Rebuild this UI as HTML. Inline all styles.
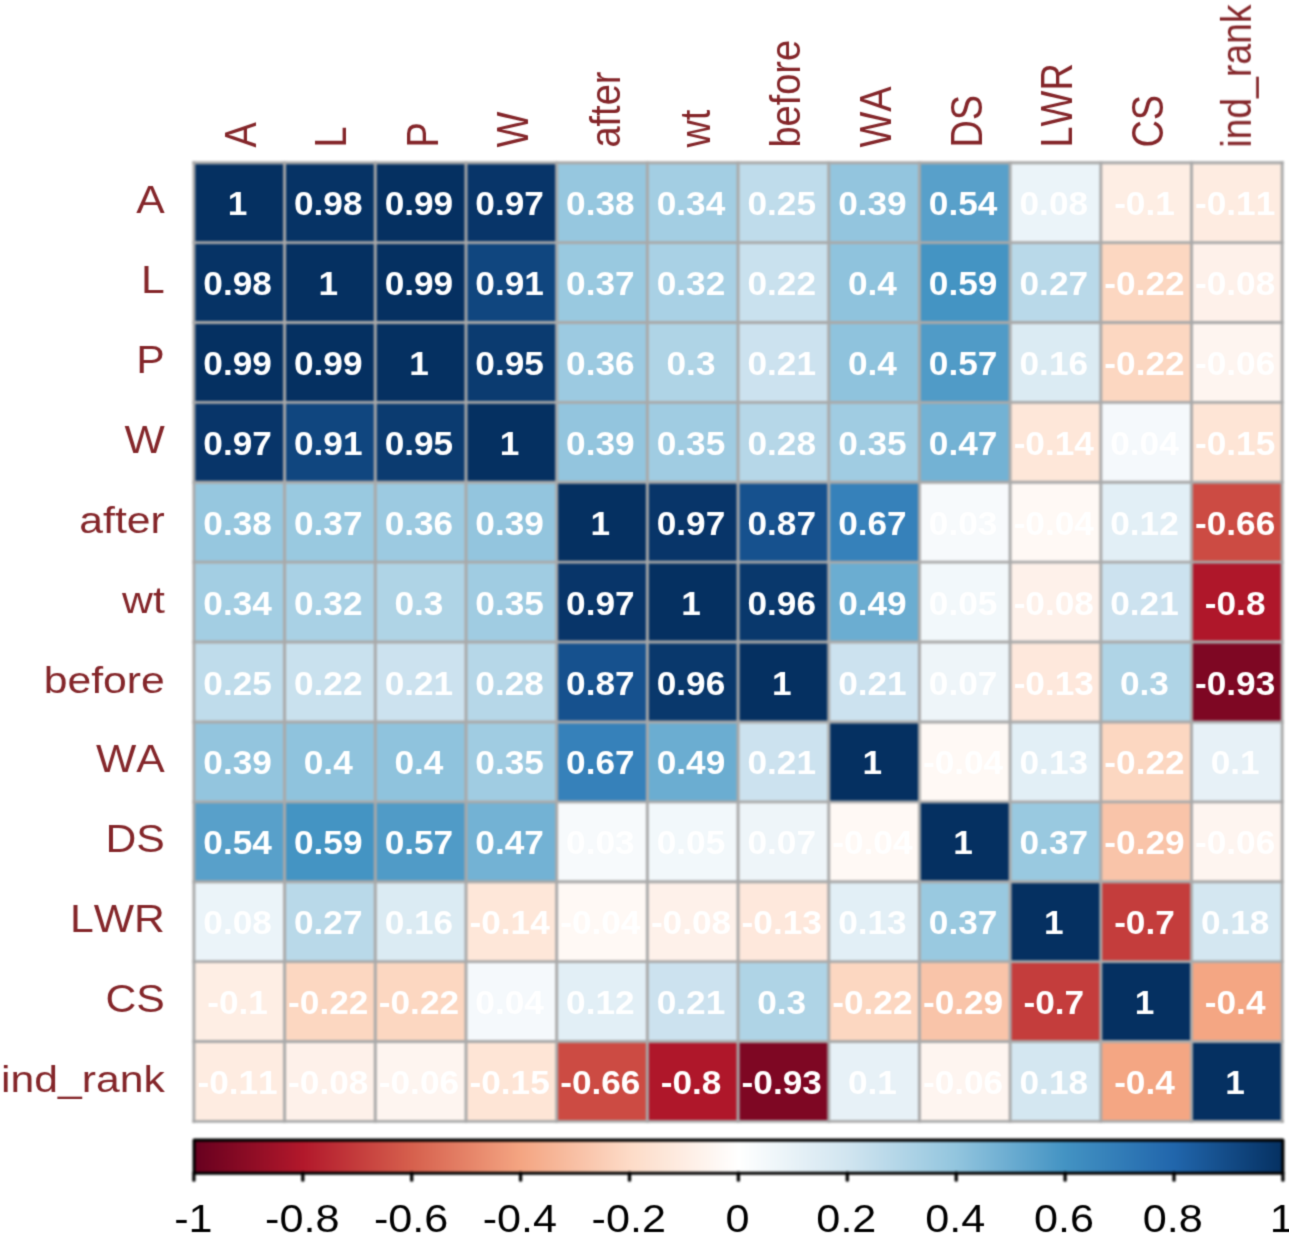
<!DOCTYPE html><html><head><meta charset="utf-8"><title>corrplot</title>
<style>html,body{margin:0;padding:0;background:#fff}svg{display:block}text{font-kerning:none;font-family:"Liberation Sans",Arial,Helvetica,sans-serif}.n{font-weight:700;font-size:31px;fill:#fff;text-anchor:middle}.l{font-size:37.6px;fill:#84262a}.c{font-size:38.4px}.k{font-size:38px;fill:#000;text-anchor:middle}</style></head><body>
<svg width="1289" height="1236" viewBox="0 0 1289 1236">
<defs><linearGradient id="g" x1="0" x2="1" y1="0" y2="0">
<stop offset="0%" stop-color="#67001F"/>
<stop offset="10%" stop-color="#B2182B"/>
<stop offset="20%" stop-color="#D6604D"/>
<stop offset="30%" stop-color="#F4A582"/>
<stop offset="40%" stop-color="#FDDBC7"/>
<stop offset="50%" stop-color="#FFFFFF"/>
<stop offset="60%" stop-color="#D1E5F0"/>
<stop offset="70%" stop-color="#92C5DE"/>
<stop offset="80%" stop-color="#4393C3"/>
<stop offset="90%" stop-color="#2166AC"/>
<stop offset="100%" stop-color="#053061"/>
</linearGradient><filter id="b" x="0" y="0" width="1289" height="1236" filterUnits="userSpaceOnUse" color-interpolation-filters="sRGB"><feGaussianBlur stdDeviation="0.8"/></filter><filter id="c" x="0" y="0" width="1289" height="1236" filterUnits="userSpaceOnUse" color-interpolation-filters="sRGB"><feConvolveMatrix order="3" kernelMatrix="1 4 1 4 16 4 1 4 1" divisor="36" edgeMode="duplicate" preserveAlpha="false"/></filter></defs>
<g filter="url(#b)">
<rect width="1289" height="1236" fill="#fff"/>
<rect x="193.90" y="162.70" width="91.19" height="80.39" fill="#053061"/>
<rect x="284.59" y="162.70" width="91.19" height="80.39" fill="#063365"/>
<rect x="375.28" y="162.70" width="91.19" height="80.39" fill="#053061"/>
<rect x="465.98" y="162.70" width="91.19" height="80.39" fill="#083569"/>
<rect x="556.67" y="162.70" width="91.19" height="80.39" fill="#96c7df"/>
<rect x="647.36" y="162.70" width="91.19" height="80.39" fill="#a3cee3"/>
<rect x="738.05" y="162.70" width="91.19" height="80.39" fill="#bfdceb"/>
<rect x="828.74" y="162.70" width="91.19" height="80.39" fill="#93c5de"/>
<rect x="919.43" y="162.70" width="91.19" height="80.39" fill="#58a0ca"/>
<rect x="1010.12" y="162.70" width="91.19" height="80.39" fill="#ebf4f9"/>
<rect x="1100.82" y="162.70" width="91.19" height="80.39" fill="#feeee4"/>
<rect x="1191.51" y="162.70" width="91.19" height="80.39" fill="#feece1"/>
<rect x="193.90" y="242.59" width="91.19" height="80.39" fill="#063365"/>
<rect x="284.59" y="242.59" width="91.19" height="80.39" fill="#053061"/>
<rect x="375.28" y="242.59" width="91.19" height="80.39" fill="#053061"/>
<rect x="465.98" y="242.59" width="91.19" height="80.39" fill="#10467f"/>
<rect x="556.67" y="242.59" width="91.19" height="80.39" fill="#99c9e0"/>
<rect x="647.36" y="242.59" width="91.19" height="80.39" fill="#a9d1e5"/>
<rect x="738.05" y="242.59" width="91.19" height="80.39" fill="#c9e1ee"/>
<rect x="828.74" y="242.59" width="91.19" height="80.39" fill="#8fc3dd"/>
<rect x="919.43" y="242.59" width="91.19" height="80.39" fill="#4494c3"/>
<rect x="1010.12" y="242.59" width="91.19" height="80.39" fill="#b9d9e9"/>
<rect x="1100.82" y="242.59" width="91.19" height="80.39" fill="#fcd7c1"/>
<rect x="1191.51" y="242.59" width="91.19" height="80.39" fill="#fef1ea"/>
<rect x="193.90" y="322.48" width="91.19" height="80.39" fill="#053061"/>
<rect x="284.59" y="322.48" width="91.19" height="80.39" fill="#053061"/>
<rect x="375.28" y="322.48" width="91.19" height="80.39" fill="#053061"/>
<rect x="465.98" y="322.48" width="91.19" height="80.39" fill="#0b3b70"/>
<rect x="556.67" y="322.48" width="91.19" height="80.39" fill="#9ccae1"/>
<rect x="647.36" y="322.48" width="91.19" height="80.39" fill="#afd4e6"/>
<rect x="738.05" y="322.48" width="91.19" height="80.39" fill="#cce2ef"/>
<rect x="828.74" y="322.48" width="91.19" height="80.39" fill="#8fc3dd"/>
<rect x="919.43" y="322.48" width="91.19" height="80.39" fill="#509bc7"/>
<rect x="1010.12" y="322.48" width="91.19" height="80.39" fill="#dbebf3"/>
<rect x="1100.82" y="322.48" width="91.19" height="80.39" fill="#fcd7c1"/>
<rect x="1191.51" y="322.48" width="91.19" height="80.39" fill="#fef5f0"/>
<rect x="193.90" y="402.38" width="91.19" height="80.39" fill="#083569"/>
<rect x="284.59" y="402.38" width="91.19" height="80.39" fill="#10467f"/>
<rect x="375.28" y="402.38" width="91.19" height="80.39" fill="#0b3b70"/>
<rect x="465.98" y="402.38" width="91.19" height="80.39" fill="#053061"/>
<rect x="556.67" y="402.38" width="91.19" height="80.39" fill="#93c5de"/>
<rect x="647.36" y="402.38" width="91.19" height="80.39" fill="#a0cce2"/>
<rect x="738.05" y="402.38" width="91.19" height="80.39" fill="#b6d7e8"/>
<rect x="828.74" y="402.38" width="91.19" height="80.39" fill="#a0cce2"/>
<rect x="919.43" y="402.38" width="91.19" height="80.39" fill="#73b2d4"/>
<rect x="1010.12" y="402.38" width="91.19" height="80.39" fill="#fee7d9"/>
<rect x="1100.82" y="402.38" width="91.19" height="80.39" fill="#f5f9fc"/>
<rect x="1191.51" y="402.38" width="91.19" height="80.39" fill="#fee5d6"/>
<rect x="193.90" y="482.27" width="91.19" height="80.39" fill="#96c7df"/>
<rect x="284.59" y="482.27" width="91.19" height="80.39" fill="#99c9e0"/>
<rect x="375.28" y="482.27" width="91.19" height="80.39" fill="#9ccae1"/>
<rect x="465.98" y="482.27" width="91.19" height="80.39" fill="#93c5de"/>
<rect x="556.67" y="482.27" width="91.19" height="80.39" fill="#053061"/>
<rect x="647.36" y="482.27" width="91.19" height="80.39" fill="#083569"/>
<rect x="738.05" y="482.27" width="91.19" height="80.39" fill="#16518e"/>
<rect x="828.74" y="482.27" width="91.19" height="80.39" fill="#3681ba"/>
<rect x="919.43" y="482.27" width="91.19" height="80.39" fill="#f7fafc"/>
<rect x="1010.12" y="482.27" width="91.19" height="80.39" fill="#fff9f5"/>
<rect x="1100.82" y="482.27" width="91.19" height="80.39" fill="#e2eff6"/>
<rect x="1191.51" y="482.27" width="91.19" height="80.39" fill="#cc4b43"/>
<rect x="193.90" y="562.16" width="91.19" height="80.39" fill="#a3cee3"/>
<rect x="284.59" y="562.16" width="91.19" height="80.39" fill="#a9d1e5"/>
<rect x="375.28" y="562.16" width="91.19" height="80.39" fill="#afd4e6"/>
<rect x="465.98" y="562.16" width="91.19" height="80.39" fill="#a0cce2"/>
<rect x="556.67" y="562.16" width="91.19" height="80.39" fill="#083569"/>
<rect x="647.36" y="562.16" width="91.19" height="80.39" fill="#053061"/>
<rect x="738.05" y="562.16" width="91.19" height="80.39" fill="#09386c"/>
<rect x="828.74" y="562.16" width="91.19" height="80.39" fill="#6badd1"/>
<rect x="919.43" y="562.16" width="91.19" height="80.39" fill="#f2f8fb"/>
<rect x="1010.12" y="562.16" width="91.19" height="80.39" fill="#fef1ea"/>
<rect x="1100.82" y="562.16" width="91.19" height="80.39" fill="#cce2ef"/>
<rect x="1191.51" y="562.16" width="91.19" height="80.39" fill="#af172a"/>
<rect x="193.90" y="642.05" width="91.19" height="80.39" fill="#bfdceb"/>
<rect x="284.59" y="642.05" width="91.19" height="80.39" fill="#c9e1ee"/>
<rect x="375.28" y="642.05" width="91.19" height="80.39" fill="#cce2ef"/>
<rect x="465.98" y="642.05" width="91.19" height="80.39" fill="#b6d7e8"/>
<rect x="556.67" y="642.05" width="91.19" height="80.39" fill="#16518e"/>
<rect x="647.36" y="642.05" width="91.19" height="80.39" fill="#09386c"/>
<rect x="738.05" y="642.05" width="91.19" height="80.39" fill="#053061"/>
<rect x="828.74" y="642.05" width="91.19" height="80.39" fill="#cce2ef"/>
<rect x="919.43" y="642.05" width="91.19" height="80.39" fill="#eef5f9"/>
<rect x="1010.12" y="642.05" width="91.19" height="80.39" fill="#fee8dc"/>
<rect x="1100.82" y="642.05" width="91.19" height="80.39" fill="#afd4e6"/>
<rect x="1191.51" y="642.05" width="91.19" height="80.39" fill="#7e0723"/>
<rect x="193.90" y="721.94" width="91.19" height="80.39" fill="#93c5de"/>
<rect x="284.59" y="721.94" width="91.19" height="80.39" fill="#8fc3dd"/>
<rect x="375.28" y="721.94" width="91.19" height="80.39" fill="#8fc3dd"/>
<rect x="465.98" y="721.94" width="91.19" height="80.39" fill="#a0cce2"/>
<rect x="556.67" y="721.94" width="91.19" height="80.39" fill="#3681ba"/>
<rect x="647.36" y="721.94" width="91.19" height="80.39" fill="#6badd1"/>
<rect x="738.05" y="721.94" width="91.19" height="80.39" fill="#cce2ef"/>
<rect x="828.74" y="721.94" width="91.19" height="80.39" fill="#053061"/>
<rect x="919.43" y="721.94" width="91.19" height="80.39" fill="#fff9f5"/>
<rect x="1010.12" y="721.94" width="91.19" height="80.39" fill="#e2eff6"/>
<rect x="1100.82" y="721.94" width="91.19" height="80.39" fill="#fcd7c1"/>
<rect x="1191.51" y="721.94" width="91.19" height="80.39" fill="#e7f1f7"/>
<rect x="193.90" y="801.83" width="91.19" height="80.39" fill="#58a0ca"/>
<rect x="284.59" y="801.83" width="91.19" height="80.39" fill="#4494c3"/>
<rect x="375.28" y="801.83" width="91.19" height="80.39" fill="#509bc7"/>
<rect x="465.98" y="801.83" width="91.19" height="80.39" fill="#73b2d4"/>
<rect x="556.67" y="801.83" width="91.19" height="80.39" fill="#f7fafc"/>
<rect x="647.36" y="801.83" width="91.19" height="80.39" fill="#f2f8fb"/>
<rect x="738.05" y="801.83" width="91.19" height="80.39" fill="#eef5f9"/>
<rect x="828.74" y="801.83" width="91.19" height="80.39" fill="#fff9f5"/>
<rect x="919.43" y="801.83" width="91.19" height="80.39" fill="#053061"/>
<rect x="1010.12" y="801.83" width="91.19" height="80.39" fill="#99c9e0"/>
<rect x="1100.82" y="801.83" width="91.19" height="80.39" fill="#f9c4a9"/>
<rect x="1191.51" y="801.83" width="91.19" height="80.39" fill="#fef5f0"/>
<rect x="193.90" y="881.72" width="91.19" height="80.39" fill="#ebf4f9"/>
<rect x="284.59" y="881.72" width="91.19" height="80.39" fill="#b9d9e9"/>
<rect x="375.28" y="881.72" width="91.19" height="80.39" fill="#dbebf3"/>
<rect x="465.98" y="881.72" width="91.19" height="80.39" fill="#fee7d9"/>
<rect x="556.67" y="881.72" width="91.19" height="80.39" fill="#fff9f5"/>
<rect x="647.36" y="881.72" width="91.19" height="80.39" fill="#fef1ea"/>
<rect x="738.05" y="881.72" width="91.19" height="80.39" fill="#fee8dc"/>
<rect x="828.74" y="881.72" width="91.19" height="80.39" fill="#e2eff6"/>
<rect x="919.43" y="881.72" width="91.19" height="80.39" fill="#99c9e0"/>
<rect x="1010.12" y="881.72" width="91.19" height="80.39" fill="#053061"/>
<rect x="1100.82" y="881.72" width="91.19" height="80.39" fill="#c43d3c"/>
<rect x="1191.51" y="881.72" width="91.19" height="80.39" fill="#d4e7f1"/>
<rect x="193.90" y="961.62" width="91.19" height="80.39" fill="#feeee4"/>
<rect x="284.59" y="961.62" width="91.19" height="80.39" fill="#fcd7c1"/>
<rect x="375.28" y="961.62" width="91.19" height="80.39" fill="#fcd7c1"/>
<rect x="465.98" y="961.62" width="91.19" height="80.39" fill="#f5f9fc"/>
<rect x="556.67" y="961.62" width="91.19" height="80.39" fill="#e2eff6"/>
<rect x="647.36" y="961.62" width="91.19" height="80.39" fill="#cce2ef"/>
<rect x="738.05" y="961.62" width="91.19" height="80.39" fill="#afd4e6"/>
<rect x="828.74" y="961.62" width="91.19" height="80.39" fill="#fcd7c1"/>
<rect x="919.43" y="961.62" width="91.19" height="80.39" fill="#f9c4a9"/>
<rect x="1010.12" y="961.62" width="91.19" height="80.39" fill="#c43d3c"/>
<rect x="1100.82" y="961.62" width="91.19" height="80.39" fill="#053061"/>
<rect x="1191.51" y="961.62" width="91.19" height="80.39" fill="#f4a683"/>
<rect x="193.90" y="1041.51" width="91.19" height="80.39" fill="#feece1"/>
<rect x="284.59" y="1041.51" width="91.19" height="80.39" fill="#fef1ea"/>
<rect x="375.28" y="1041.51" width="91.19" height="80.39" fill="#fef5f0"/>
<rect x="465.98" y="1041.51" width="91.19" height="80.39" fill="#fee5d6"/>
<rect x="556.67" y="1041.51" width="91.19" height="80.39" fill="#cc4b43"/>
<rect x="647.36" y="1041.51" width="91.19" height="80.39" fill="#af172a"/>
<rect x="738.05" y="1041.51" width="91.19" height="80.39" fill="#7e0723"/>
<rect x="828.74" y="1041.51" width="91.19" height="80.39" fill="#e7f1f7"/>
<rect x="919.43" y="1041.51" width="91.19" height="80.39" fill="#fef5f0"/>
<rect x="1010.12" y="1041.51" width="91.19" height="80.39" fill="#d4e7f1"/>
<rect x="1100.82" y="1041.51" width="91.19" height="80.39" fill="#f4a683"/>
<rect x="1191.51" y="1041.51" width="91.19" height="80.39" fill="#053061"/>
<line x1="193.90" y1="161.20" x2="193.90" y2="1122.90" stroke="#a9a9a9" stroke-width="2.9"/>
<line x1="192.40" y1="162.70" x2="1283.70" y2="162.70" stroke="#a9a9a9" stroke-width="2.9"/>
<line x1="284.59" y1="161.20" x2="284.59" y2="1122.90" stroke="#a9a9a9" stroke-width="2.9"/>
<line x1="192.40" y1="242.59" x2="1283.70" y2="242.59" stroke="#a9a9a9" stroke-width="2.9"/>
<line x1="375.28" y1="161.20" x2="375.28" y2="1122.90" stroke="#a9a9a9" stroke-width="2.9"/>
<line x1="192.40" y1="322.48" x2="1283.70" y2="322.48" stroke="#a9a9a9" stroke-width="2.9"/>
<line x1="465.98" y1="161.20" x2="465.98" y2="1122.90" stroke="#a9a9a9" stroke-width="2.9"/>
<line x1="192.40" y1="402.38" x2="1283.70" y2="402.38" stroke="#a9a9a9" stroke-width="2.9"/>
<line x1="556.67" y1="161.20" x2="556.67" y2="1122.90" stroke="#a9a9a9" stroke-width="2.9"/>
<line x1="192.40" y1="482.27" x2="1283.70" y2="482.27" stroke="#a9a9a9" stroke-width="2.9"/>
<line x1="647.36" y1="161.20" x2="647.36" y2="1122.90" stroke="#a9a9a9" stroke-width="2.9"/>
<line x1="192.40" y1="562.16" x2="1283.70" y2="562.16" stroke="#a9a9a9" stroke-width="2.9"/>
<line x1="738.05" y1="161.20" x2="738.05" y2="1122.90" stroke="#a9a9a9" stroke-width="2.9"/>
<line x1="192.40" y1="642.05" x2="1283.70" y2="642.05" stroke="#a9a9a9" stroke-width="2.9"/>
<line x1="828.74" y1="161.20" x2="828.74" y2="1122.90" stroke="#a9a9a9" stroke-width="2.9"/>
<line x1="192.40" y1="721.94" x2="1283.70" y2="721.94" stroke="#a9a9a9" stroke-width="2.9"/>
<line x1="919.43" y1="161.20" x2="919.43" y2="1122.90" stroke="#a9a9a9" stroke-width="2.9"/>
<line x1="192.40" y1="801.83" x2="1283.70" y2="801.83" stroke="#a9a9a9" stroke-width="2.9"/>
<line x1="1010.12" y1="161.20" x2="1010.12" y2="1122.90" stroke="#a9a9a9" stroke-width="2.9"/>
<line x1="192.40" y1="881.72" x2="1283.70" y2="881.72" stroke="#a9a9a9" stroke-width="2.9"/>
<line x1="1100.82" y1="161.20" x2="1100.82" y2="1122.90" stroke="#a9a9a9" stroke-width="2.9"/>
<line x1="192.40" y1="961.62" x2="1283.70" y2="961.62" stroke="#a9a9a9" stroke-width="2.9"/>
<line x1="1191.51" y1="161.20" x2="1191.51" y2="1122.90" stroke="#a9a9a9" stroke-width="2.9"/>
<line x1="192.40" y1="1041.51" x2="1283.70" y2="1041.51" stroke="#a9a9a9" stroke-width="2.9"/>
<line x1="1282.20" y1="161.20" x2="1282.20" y2="1122.90" stroke="#a9a9a9" stroke-width="2.9"/>
<line x1="192.40" y1="1121.40" x2="1283.70" y2="1121.40" stroke="#a9a9a9" stroke-width="2.9"/>
<rect x="194.10" y="1140.1" width="1088.80" height="33.1" fill="url(#g)" stroke="#000" stroke-width="3.1" stroke-linejoin="round"/>
<line x1="193.90" y1="1173" x2="193.90" y2="1180.2" stroke="#000" stroke-width="3.3" stroke-linecap="round"/>
<line x1="302.80" y1="1173" x2="302.80" y2="1180.2" stroke="#000" stroke-width="3.3" stroke-linecap="round"/>
<line x1="411.70" y1="1173" x2="411.70" y2="1180.2" stroke="#000" stroke-width="3.3" stroke-linecap="round"/>
<line x1="520.60" y1="1173" x2="520.60" y2="1180.2" stroke="#000" stroke-width="3.3" stroke-linecap="round"/>
<line x1="629.50" y1="1173" x2="629.50" y2="1180.2" stroke="#000" stroke-width="3.3" stroke-linecap="round"/>
<line x1="738.40" y1="1173" x2="738.40" y2="1180.2" stroke="#000" stroke-width="3.3" stroke-linecap="round"/>
<line x1="847.30" y1="1173" x2="847.30" y2="1180.2" stroke="#000" stroke-width="3.3" stroke-linecap="round"/>
<line x1="956.20" y1="1173" x2="956.20" y2="1180.2" stroke="#000" stroke-width="3.3" stroke-linecap="round"/>
<line x1="1065.10" y1="1173" x2="1065.10" y2="1180.2" stroke="#000" stroke-width="3.3" stroke-linecap="round"/>
<line x1="1174.00" y1="1173" x2="1174.00" y2="1180.2" stroke="#000" stroke-width="3.3" stroke-linecap="round"/>
<line x1="1282.90" y1="1173" x2="1282.90" y2="1180.2" stroke="#000" stroke-width="3.3" stroke-linecap="round"/>
</g>
<g filter="url(#c)">
<text class="n" transform="translate(237.55 215.15) scale(1.136 1.070)">1</text>
<text class="n" transform="translate(328.24 215.15) scale(1.136 1.070)">0.98</text>
<text class="n" transform="translate(418.93 215.15) scale(1.136 1.070)">0.99</text>
<text class="n" transform="translate(509.62 215.15) scale(1.136 1.070)">0.97</text>
<text class="n" transform="translate(600.31 215.15) scale(1.136 1.070)">0.38</text>
<text class="n" transform="translate(691.00 215.15) scale(1.136 1.070)">0.34</text>
<text class="n" transform="translate(781.70 215.15) scale(1.136 1.070)">0.25</text>
<text class="n" transform="translate(872.39 215.15) scale(1.136 1.070)">0.39</text>
<text class="n" transform="translate(963.08 215.15) scale(1.136 1.070)">0.54</text>
<text class="n" transform="translate(1053.77 215.15) scale(1.136 1.070)">0.08</text>
<text class="n" transform="translate(1144.46 215.15) scale(1.136 1.070)">-0.1</text>
<text class="n" transform="translate(1235.15 215.15) scale(1.136 1.070)">-0.11</text>
<text class="n" transform="translate(237.55 295.04) scale(1.136 1.070)">0.98</text>
<text class="n" transform="translate(328.24 295.04) scale(1.136 1.070)">1</text>
<text class="n" transform="translate(418.93 295.04) scale(1.136 1.070)">0.99</text>
<text class="n" transform="translate(509.62 295.04) scale(1.136 1.070)">0.91</text>
<text class="n" transform="translate(600.31 295.04) scale(1.136 1.070)">0.37</text>
<text class="n" transform="translate(691.00 295.04) scale(1.136 1.070)">0.32</text>
<text class="n" transform="translate(781.70 295.04) scale(1.136 1.070)">0.22</text>
<text class="n" transform="translate(872.39 295.04) scale(1.136 1.070)">0.4</text>
<text class="n" transform="translate(963.08 295.04) scale(1.136 1.070)">0.59</text>
<text class="n" transform="translate(1053.77 295.04) scale(1.136 1.070)">0.27</text>
<text class="n" transform="translate(1144.46 295.04) scale(1.136 1.070)">-0.22</text>
<text class="n" transform="translate(1235.15 295.04) scale(1.136 1.070)">-0.08</text>
<text class="n" transform="translate(237.55 374.93) scale(1.136 1.070)">0.99</text>
<text class="n" transform="translate(328.24 374.93) scale(1.136 1.070)">0.99</text>
<text class="n" transform="translate(418.93 374.93) scale(1.136 1.070)">1</text>
<text class="n" transform="translate(509.62 374.93) scale(1.136 1.070)">0.95</text>
<text class="n" transform="translate(600.31 374.93) scale(1.136 1.070)">0.36</text>
<text class="n" transform="translate(691.00 374.93) scale(1.136 1.070)">0.3</text>
<text class="n" transform="translate(781.70 374.93) scale(1.136 1.070)">0.21</text>
<text class="n" transform="translate(872.39 374.93) scale(1.136 1.070)">0.4</text>
<text class="n" transform="translate(963.08 374.93) scale(1.136 1.070)">0.57</text>
<text class="n" transform="translate(1053.77 374.93) scale(1.136 1.070)">0.16</text>
<text class="n" transform="translate(1144.46 374.93) scale(1.136 1.070)">-0.22</text>
<text class="n" transform="translate(1235.15 374.93) scale(1.136 1.070)">-0.06</text>
<text class="n" transform="translate(237.55 454.82) scale(1.136 1.070)">0.97</text>
<text class="n" transform="translate(328.24 454.82) scale(1.136 1.070)">0.91</text>
<text class="n" transform="translate(418.93 454.82) scale(1.136 1.070)">0.95</text>
<text class="n" transform="translate(509.62 454.82) scale(1.136 1.070)">1</text>
<text class="n" transform="translate(600.31 454.82) scale(1.136 1.070)">0.39</text>
<text class="n" transform="translate(691.00 454.82) scale(1.136 1.070)">0.35</text>
<text class="n" transform="translate(781.70 454.82) scale(1.136 1.070)">0.28</text>
<text class="n" transform="translate(872.39 454.82) scale(1.136 1.070)">0.35</text>
<text class="n" transform="translate(963.08 454.82) scale(1.136 1.070)">0.47</text>
<text class="n" transform="translate(1053.77 454.82) scale(1.136 1.070)">-0.14</text>
<text class="n" transform="translate(1144.46 454.82) scale(1.136 1.070)">0.04</text>
<text class="n" transform="translate(1235.15 454.82) scale(1.136 1.070)">-0.15</text>
<text class="n" transform="translate(237.55 534.71) scale(1.136 1.070)">0.38</text>
<text class="n" transform="translate(328.24 534.71) scale(1.136 1.070)">0.37</text>
<text class="n" transform="translate(418.93 534.71) scale(1.136 1.070)">0.36</text>
<text class="n" transform="translate(509.62 534.71) scale(1.136 1.070)">0.39</text>
<text class="n" transform="translate(600.31 534.71) scale(1.136 1.070)">1</text>
<text class="n" transform="translate(691.00 534.71) scale(1.136 1.070)">0.97</text>
<text class="n" transform="translate(781.70 534.71) scale(1.136 1.070)">0.87</text>
<text class="n" transform="translate(872.39 534.71) scale(1.136 1.070)">0.67</text>
<text class="n" transform="translate(963.08 534.71) scale(1.136 1.070)">0.03</text>
<text class="n" transform="translate(1053.77 534.71) scale(1.136 1.070)">-0.04</text>
<text class="n" transform="translate(1144.46 534.71) scale(1.136 1.070)">0.12</text>
<text class="n" transform="translate(1235.15 534.71) scale(1.136 1.070)">-0.66</text>
<text class="n" transform="translate(237.55 614.60) scale(1.136 1.070)">0.34</text>
<text class="n" transform="translate(328.24 614.60) scale(1.136 1.070)">0.32</text>
<text class="n" transform="translate(418.93 614.60) scale(1.136 1.070)">0.3</text>
<text class="n" transform="translate(509.62 614.60) scale(1.136 1.070)">0.35</text>
<text class="n" transform="translate(600.31 614.60) scale(1.136 1.070)">0.97</text>
<text class="n" transform="translate(691.00 614.60) scale(1.136 1.070)">1</text>
<text class="n" transform="translate(781.70 614.60) scale(1.136 1.070)">0.96</text>
<text class="n" transform="translate(872.39 614.60) scale(1.136 1.070)">0.49</text>
<text class="n" transform="translate(963.08 614.60) scale(1.136 1.070)">0.05</text>
<text class="n" transform="translate(1053.77 614.60) scale(1.136 1.070)">-0.08</text>
<text class="n" transform="translate(1144.46 614.60) scale(1.136 1.070)">0.21</text>
<text class="n" transform="translate(1235.15 614.60) scale(1.136 1.070)">-0.8</text>
<text class="n" transform="translate(237.55 694.50) scale(1.136 1.070)">0.25</text>
<text class="n" transform="translate(328.24 694.50) scale(1.136 1.070)">0.22</text>
<text class="n" transform="translate(418.93 694.50) scale(1.136 1.070)">0.21</text>
<text class="n" transform="translate(509.62 694.50) scale(1.136 1.070)">0.28</text>
<text class="n" transform="translate(600.31 694.50) scale(1.136 1.070)">0.87</text>
<text class="n" transform="translate(691.00 694.50) scale(1.136 1.070)">0.96</text>
<text class="n" transform="translate(781.70 694.50) scale(1.136 1.070)">1</text>
<text class="n" transform="translate(872.39 694.50) scale(1.136 1.070)">0.21</text>
<text class="n" transform="translate(963.08 694.50) scale(1.136 1.070)">0.07</text>
<text class="n" transform="translate(1053.77 694.50) scale(1.136 1.070)">-0.13</text>
<text class="n" transform="translate(1144.46 694.50) scale(1.136 1.070)">0.3</text>
<text class="n" transform="translate(1235.15 694.50) scale(1.136 1.070)">-0.93</text>
<text class="n" transform="translate(237.55 774.39) scale(1.136 1.070)">0.39</text>
<text class="n" transform="translate(328.24 774.39) scale(1.136 1.070)">0.4</text>
<text class="n" transform="translate(418.93 774.39) scale(1.136 1.070)">0.4</text>
<text class="n" transform="translate(509.62 774.39) scale(1.136 1.070)">0.35</text>
<text class="n" transform="translate(600.31 774.39) scale(1.136 1.070)">0.67</text>
<text class="n" transform="translate(691.00 774.39) scale(1.136 1.070)">0.49</text>
<text class="n" transform="translate(781.70 774.39) scale(1.136 1.070)">0.21</text>
<text class="n" transform="translate(872.39 774.39) scale(1.136 1.070)">1</text>
<text class="n" transform="translate(963.08 774.39) scale(1.136 1.070)">-0.04</text>
<text class="n" transform="translate(1053.77 774.39) scale(1.136 1.070)">0.13</text>
<text class="n" transform="translate(1144.46 774.39) scale(1.136 1.070)">-0.22</text>
<text class="n" transform="translate(1235.15 774.39) scale(1.136 1.070)">0.1</text>
<text class="n" transform="translate(237.55 854.28) scale(1.136 1.070)">0.54</text>
<text class="n" transform="translate(328.24 854.28) scale(1.136 1.070)">0.59</text>
<text class="n" transform="translate(418.93 854.28) scale(1.136 1.070)">0.57</text>
<text class="n" transform="translate(509.62 854.28) scale(1.136 1.070)">0.47</text>
<text class="n" transform="translate(600.31 854.28) scale(1.136 1.070)">0.03</text>
<text class="n" transform="translate(691.00 854.28) scale(1.136 1.070)">0.05</text>
<text class="n" transform="translate(781.70 854.28) scale(1.136 1.070)">0.07</text>
<text class="n" transform="translate(872.39 854.28) scale(1.136 1.070)">-0.04</text>
<text class="n" transform="translate(963.08 854.28) scale(1.136 1.070)">1</text>
<text class="n" transform="translate(1053.77 854.28) scale(1.136 1.070)">0.37</text>
<text class="n" transform="translate(1144.46 854.28) scale(1.136 1.070)">-0.29</text>
<text class="n" transform="translate(1235.15 854.28) scale(1.136 1.070)">-0.06</text>
<text class="n" transform="translate(237.55 934.17) scale(1.136 1.070)">0.08</text>
<text class="n" transform="translate(328.24 934.17) scale(1.136 1.070)">0.27</text>
<text class="n" transform="translate(418.93 934.17) scale(1.136 1.070)">0.16</text>
<text class="n" transform="translate(509.62 934.17) scale(1.136 1.070)">-0.14</text>
<text class="n" transform="translate(600.31 934.17) scale(1.136 1.070)">-0.04</text>
<text class="n" transform="translate(691.00 934.17) scale(1.136 1.070)">-0.08</text>
<text class="n" transform="translate(781.70 934.17) scale(1.136 1.070)">-0.13</text>
<text class="n" transform="translate(872.39 934.17) scale(1.136 1.070)">0.13</text>
<text class="n" transform="translate(963.08 934.17) scale(1.136 1.070)">0.37</text>
<text class="n" transform="translate(1053.77 934.17) scale(1.136 1.070)">1</text>
<text class="n" transform="translate(1144.46 934.17) scale(1.136 1.070)">-0.7</text>
<text class="n" transform="translate(1235.15 934.17) scale(1.136 1.070)">0.18</text>
<text class="n" transform="translate(237.55 1014.06) scale(1.136 1.070)">-0.1</text>
<text class="n" transform="translate(328.24 1014.06) scale(1.136 1.070)">-0.22</text>
<text class="n" transform="translate(418.93 1014.06) scale(1.136 1.070)">-0.22</text>
<text class="n" transform="translate(509.62 1014.06) scale(1.136 1.070)">0.04</text>
<text class="n" transform="translate(600.31 1014.06) scale(1.136 1.070)">0.12</text>
<text class="n" transform="translate(691.00 1014.06) scale(1.136 1.070)">0.21</text>
<text class="n" transform="translate(781.70 1014.06) scale(1.136 1.070)">0.3</text>
<text class="n" transform="translate(872.39 1014.06) scale(1.136 1.070)">-0.22</text>
<text class="n" transform="translate(963.08 1014.06) scale(1.136 1.070)">-0.29</text>
<text class="n" transform="translate(1053.77 1014.06) scale(1.136 1.070)">-0.7</text>
<text class="n" transform="translate(1144.46 1014.06) scale(1.136 1.070)">1</text>
<text class="n" transform="translate(1235.15 1014.06) scale(1.136 1.070)">-0.4</text>
<text class="n" transform="translate(237.55 1093.95) scale(1.136 1.070)">-0.11</text>
<text class="n" transform="translate(328.24 1093.95) scale(1.136 1.070)">-0.08</text>
<text class="n" transform="translate(418.93 1093.95) scale(1.136 1.070)">-0.06</text>
<text class="n" transform="translate(509.62 1093.95) scale(1.136 1.070)">-0.15</text>
<text class="n" transform="translate(600.31 1093.95) scale(1.136 1.070)">-0.66</text>
<text class="n" transform="translate(691.00 1093.95) scale(1.136 1.070)">-0.8</text>
<text class="n" transform="translate(781.70 1093.95) scale(1.136 1.070)">-0.93</text>
<text class="n" transform="translate(872.39 1093.95) scale(1.136 1.070)">0.1</text>
<text class="n" transform="translate(963.08 1093.95) scale(1.136 1.070)">-0.06</text>
<text class="n" transform="translate(1053.77 1093.95) scale(1.136 1.070)">0.18</text>
<text class="n" transform="translate(1144.46 1093.95) scale(1.136 1.070)">-0.4</text>
<text class="n" transform="translate(1235.15 1093.95) scale(1.136 1.070)">1</text>
<text class="l" text-anchor="end" transform="translate(164.80 213.25) scale(1.136 1.040)">A</text>
<text class="l" text-anchor="end" transform="translate(164.80 293.14) scale(1.136 1.040)">L</text>
<text class="l" text-anchor="end" transform="translate(164.80 373.03) scale(1.136 1.040)">P</text>
<text class="l" text-anchor="end" transform="translate(164.80 452.92) scale(1.136 1.040)">W</text>
<text class="l" text-anchor="end" transform="translate(164.80 532.81) scale(1.136 0.985)">after</text>
<text class="l" text-anchor="end" transform="translate(164.80 612.70) scale(1.136 0.985)">wt</text>
<text class="l" text-anchor="end" transform="translate(164.80 692.60) scale(1.136 0.985)">before</text>
<text class="l" text-anchor="end" transform="translate(164.80 772.49) scale(1.136 1.040)">WA</text>
<text class="l" text-anchor="end" transform="translate(164.80 852.38) scale(1.136 1.040)">DS</text>
<text class="l" text-anchor="end" transform="translate(164.80 932.27) scale(1.136 1.040)">LWR</text>
<text class="l" text-anchor="end" transform="translate(164.80 1012.16) scale(1.136 1.040)">CS</text>
<text class="l" text-anchor="end" transform="translate(164.80 1092.05) scale(1.136 0.985)">ind_rank</text>
<text class="l" style="font-size:38.0px" transform="translate(256.25 147.60) scale(1.169 1) rotate(-90)">A</text>
<text class="l" style="font-size:38.0px" transform="translate(346.34 147.60) scale(1.169 1) rotate(-90)">L</text>
<text class="l" style="font-size:38.0px" transform="translate(437.63 147.60) scale(1.169 1) rotate(-90)">P</text>
<text class="l" style="font-size:38.0px" transform="translate(528.32 147.60) scale(1.169 1) rotate(-90)">W</text>
<text class="l" style="font-size:38.0px" transform="translate(620.21 147.60) scale(1.107 1) rotate(-90)">after</text>
<text class="l" style="font-size:38.0px" transform="translate(709.70 147.60) scale(1.107 1) rotate(-90)">wt</text>
<text class="l" style="font-size:38.0px" transform="translate(800.40 147.60) scale(1.107 1) rotate(-90)">before</text>
<text class="l" style="font-size:38.0px" transform="translate(891.09 147.60) scale(1.169 1) rotate(-90)">WA</text>
<text class="l" style="font-size:38.0px" transform="translate(981.78 147.60) scale(1.169 1) rotate(-90)">DS</text>
<text class="l" style="font-size:38.0px" transform="translate(1072.47 147.60) scale(1.169 1) rotate(-90)">LWR</text>
<text class="l" style="font-size:38.0px" transform="translate(1163.16 147.60) scale(1.169 1) rotate(-90)">CS</text>
<text class="l" style="font-size:37.3px" transform="translate(1250.45 147.60) scale(1.128 1) rotate(-90)">ind_rank</text>
<text class="k" transform="translate(193.40 1232.3) scale(1.136 1.040)">-1</text>
<text class="k" transform="translate(302.23 1232.3) scale(1.136 1.040)">-0.8</text>
<text class="k" transform="translate(411.06 1232.3) scale(1.136 1.040)">-0.6</text>
<text class="k" transform="translate(519.89 1232.3) scale(1.136 1.040)">-0.4</text>
<text class="k" transform="translate(628.72 1232.3) scale(1.136 1.040)">-0.2</text>
<text class="k" transform="translate(737.55 1232.3) scale(1.136 1.040)">0</text>
<text class="k" transform="translate(846.38 1232.3) scale(1.136 1.040)">0.2</text>
<text class="k" transform="translate(955.21 1232.3) scale(1.136 1.040)">0.4</text>
<text class="k" transform="translate(1064.04 1232.3) scale(1.136 1.040)">0.6</text>
<text class="k" transform="translate(1172.87 1232.3) scale(1.136 1.040)">0.8</text>
<text class="k" transform="translate(1281.70 1232.3) scale(1.136 1.040)">1</text>
</g>
</svg></body></html>
